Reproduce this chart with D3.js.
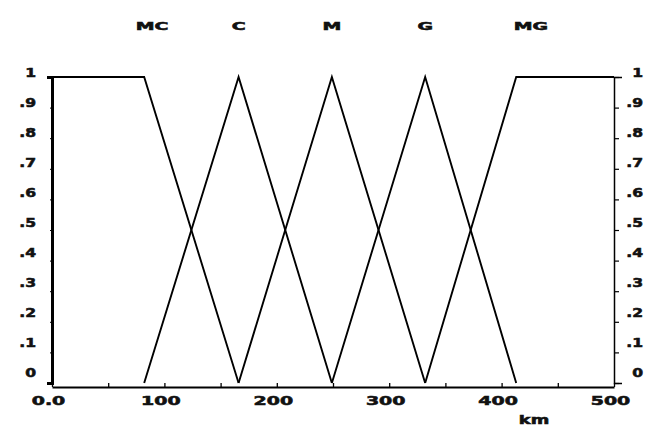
<!DOCTYPE html>
<html>
<head>
<meta charset="utf-8">
<script src="https://cdn.jsdelivr.net/npm/d3@7"></script>
<style>
  html, body { margin: 0; padding: 0; background: #fff; }
  svg { display: block; }
  text { font-family: "DejaVu Sans", "Liberation Sans", sans-serif; font-weight: bold; fill: #111;
         stroke: #111; stroke-width: 0.55px; paint-order: stroke; }
</style>
</head>
<body>
<svg id="chart" width="670" height="435"></svg>
<script>
// Fuzzy sets for distance (km): very short, short, medium, long, very long
const setNames = ["MC", "C", "M", "G", "MG"];
// Breakpoints [km, membership] of each set
const setMC = [[0, 1], [82, 1], [166, 0]];
const setC  = [[82, 0], [166, 1], [249, 0]];
const setM  = [[166, 0], [249, 1], [332, 0]];
const setG  = [[249, 0], [332, 1], [413, 0]];
const setMG = [[332, 0], [413, 1], [500, 1]];
// Where each set name sits along the km axis
const nameAt = [89, 166, 249, 332, 426];

const xTicks = [0, 50, 100, 150, 200, 250, 300, 350, 400, 450, 500];
const xLabels = [0, 100, 200, 300, 400, 500];
const yTicks = [0, 0.1, 0.2, 0.3, 0.4, 0.5, 0.6, 0.7, 0.8, 0.9, 1];

const sets = [setMC, setC, setM, setG, setMG];

const svg = d3.select("#chart");
const x = d3.scaleLinear().domain([0, 500]).range([52, 614]);
const y = d3.scaleLinear().domain([0, 1]).range([383, 77]);

const fmtX = v => v === 0 ? "0.0" : String(v);
const fmtY = v => v === 1 ? "1" : v === 0 ? "0" : d3.format(".1f")(v).slice(1);

// Tick labels are drawn with a horizontally widened face
function widen(sel, sx, fx, fy) {
  sel.each(function(d) {
    const t = d3.select(this);
    t.attr("x", 0).attr("y", 0).attr("dy", null)
     .attr("transform", `translate(${fx(d)},${fy(d)}) scale(${sx},1)`);
  });
}

// Membership curves
const line = d3.line().x(d => x(d[0])).y(d => y(d[1]));
svg.append("g").selectAll("path").data(sets).join("path")
  .attr("d", line)
  .attr("fill", "none")
  .attr("stroke", "#000")
  .attr("stroke-width", 1.9)
  .attr("stroke-linejoin", "miter");

// Bottom axis (ticks pointing up)
const gx = svg.append("g").attr("transform", "translate(0,387)")
  .call(d3.axisBottom(x).tickValues(xTicks).tickSize(-4).tickSizeOuter(0)
    .tickFormat(v => xLabels.includes(v) ? fmtX(v) : ""));
gx.select(".domain").attr("stroke", "#000").attr("stroke-width", 2);
gx.selectAll(".tick line").attr("stroke", "#000").attr("stroke-width", 1.3);
gx.selectAll(".tick text").attr("font-size", 11.5).attr("text-anchor", "middle")
  .call(widen, 1.65, () => -4, () => 18);

// Left axis (heavy rule)
const gl = svg.append("g").attr("transform", "translate(52,0)")
  .call(d3.axisLeft(y).tickValues(yTicks).tickSize(2).tickSizeOuter(5).tickFormat(fmtY));
gl.select(".domain").attr("stroke", "#000").attr("stroke-width", 3);
gl.selectAll(".tick line").attr("stroke", "#000").attr("stroke-width", 1);
gl.selectAll(".tick text").attr("font-size", 12).attr("text-anchor", "end")
  .call(widen, 1.3, () => -16, v => -11 + 6 * v + 4.5);

// Right axis
const gr = svg.append("g").attr("transform", "translate(614,0)")
  .call(d3.axisRight(y).tickValues(yTicks).tickSize(5).tickSizeOuter(8).tickFormat(fmtY));
gr.select(".domain").attr("stroke", "#000").attr("stroke-width", 1.5);
gr.selectAll(".tick line").attr("stroke", "#000").attr("stroke-width", 1.2);
gr.selectAll(".tick text").attr("font-size", 12).attr("text-anchor", "end")
  .call(widen, 1.3, () => 29, v => -11 + 6 * v + 4.5);

// Axis title
svg.append("text").attr("font-size", 11.5).attr("text-anchor", "middle")
  .attr("transform", "translate(534,424) scale(1.55,1)").text("km");

// Set names above the plot
svg.append("g").selectAll("text").data(setNames).join("text")
  .attr("font-size", 10.5).attr("text-anchor", "middle")
  .attr("transform", (d, i) => `translate(${x(nameAt[i])},30) scale(1.8,1)`)
  .text(d => d);
</script>
</body>
</html>
